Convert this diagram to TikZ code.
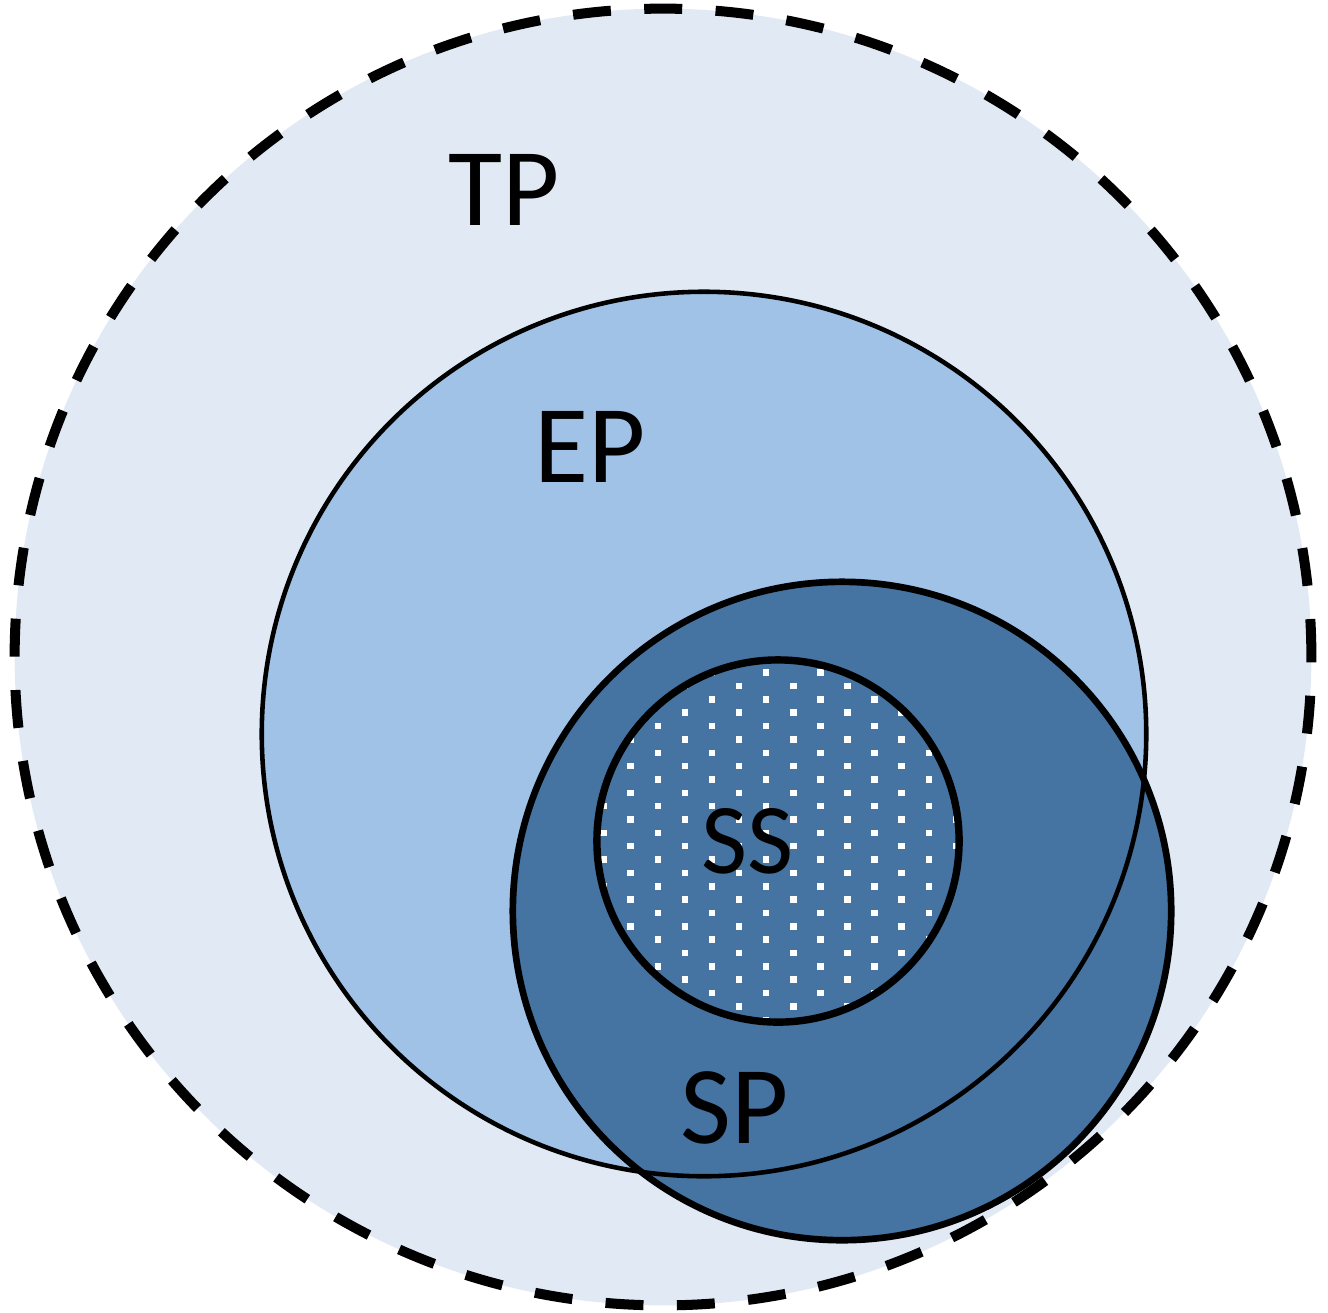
\documentclass[tikz,border=0pt]{standalone}
\usepackage{fontspec}
\setmainfont{Carlito}
\usetikzlibrary{positioning}
\definecolor{Haze}{HTML}{E1EAF4}
\definecolor{Sky}{HTML}{A0C2E7}
\definecolor{Steel}{HTML}{4573A2}
\tikzset{
  tprim/.style={draw=black,line width=2.85pt,dash pattern=on 10.8pt off 9.5pt},
  eprim/.style={draw=black,line width=1.3pt},
  sprim/.style={draw=black,line width=1.9pt},
  ssrim/.style={draw=black,line width=2.1pt},
  speck/.style={fill=white},
  tag/.style={font=\fontsize{31.5}{36}\selectfont,inner sep=0pt,anchor=base},
  smalltag/.style={tag,font=\fontsize{28.5}{33}\selectfont}
}

\begin{document}
\begin{tikzpicture}[x=0.01cm,y=-0.01cm]
  \useasboundingbox (0,0) rectangle (1328,1312);
  \coordinate (tpc) at (663,657);
  \coordinate (epc) at (704,734);
  \coordinate (spc) at (842,911);
  \coordinate (ssc) at (778,841);
  % fills
  \fill[Haze] (tpc) circle[radius=6.48cm];
  \fill[Sky] (epc) circle[radius=4.42cm];
  \fill[Steel] (spc) circle[radius=3.29cm];
  % dotted core
  \begin{scope}
    \clip (ssc) circle[radius=1.81cm];
    \foreach \i in {-2,...,13}
      \foreach \j in {-1,...,14}
        \fill[speck] ({630.7+27.1*\i-3.25},{686+26.7*\j-13.35*mod(\i+2,2)-3.25}) rectangle ++(6.5,6.5);
  \end{scope}
  % outlines
  \draw[tprim] (tpc) circle[radius=6.48cm];
  \draw[eprim] (epc) circle[radius=4.42cm];
  \draw[sprim] (spc) circle[radius=3.29cm];
  \draw[ssrim] (ssc) circle[radius=1.81cm];
  % labels
  \node[tag] (tp) at (504,225) {TP};
  \node[tag] (ep) at (590,482) {EP};
  \node[smalltag] (ss) at (748,873) {SS};
  \node[tag] (sp) at (735,1143) {SP};
\end{tikzpicture}
\end{document}
